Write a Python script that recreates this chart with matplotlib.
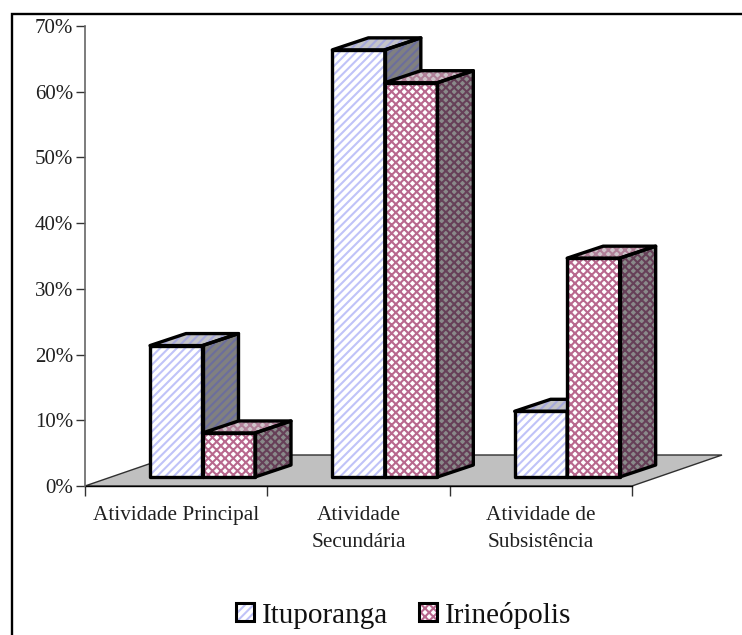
import matplotlib
matplotlib.use('Agg')
import matplotlib.pyplot as plt
from matplotlib.patches import Polygon, Rectangle
from matplotlib.lines import Line2D
import numpy as np

categories = ['Atividade Principal', 'Atividade\nSecundária', 'Atividade de\nSubsistência']
series_names = ['Ituporanga', 'Irineópolis']
ituporanga = [20.0, 65.0, 10.0]
irineopolis = [6.7, 60.0, 33.3]
y_ticks = [0, 10, 20, 30, 40, 50, 60, 70]

W, H = 742, 635
plt.rcParams['font.family'] = ['Liberation Serif', 'DejaVu Serif']
plt.rcParams['hatch.linewidth'] = 1.5

fig = plt.figure(figsize=(W / 100, H / 100), dpi=100)
ax = fig.add_axes([85 / W, (H - 486) / H, (632 - 85) / W, 460 / H])
ax.set_xlim(0, 3)
ax.set_ylim(0, 70)
ax.patch.set_visible(False)

# Sizes of the fake 3D, in data units
px = 3 / 547
py = 70 / 460
bar_w = 52.5 * px
gap = 65 * px
base = 9 * py
dx = 36 * px
dy = 12 * py
floor_dx = 90 * px
floor_dy = 31 * py

# Floor
ax.add_patch(Polygon([(0, 0), (3, 0), (3 + floor_dx, floor_dy), (floor_dx, floor_dy)],
                     facecolor='#c0c0c0', edgecolor='#303030', linewidth=1, clip_on=False, zorder=1))


def draw_bar(x, value, faces, hatch, z):
    y0 = base
    y1 = value + base
    out = dict(fill=False, edgecolor='black', linewidth=2.4, joinstyle='round', clip_on=False, zorder=z + 0.1)
    front = [(x, y0), (x + bar_w, y0), (x + bar_w, y1), (x, y1)]
    right = [(x + bar_w, y0), (x + bar_w + dx, y0 + dy), (x + bar_w + dx, y1 + dy), (x + bar_w, y1)]
    upper = [(x, y1), (x + bar_w, y1), (x + bar_w + dx, y1 + dy), (x + dx, y1 + dy)]
    for pts, (fc, hc) in zip([right, upper, front], faces):
        ax.add_patch(Polygon(pts, facecolor=fc, edgecolor=hc, hatch=hatch, linewidth=0, clip_on=False, zorder=z))
        ax.add_patch(Polygon(pts, **out))


# (face, hatch) colours for the side, top and front of the bars
blue_faces = [('#808080', '#6c6e9c'), ('#c4c4c8', '#a6a8dc'), ('white', '#c0c3f8')]
pink_faces = [('#8a8a8a', '#664058'), ('#cfc4ca', '#b08098'), ('white', '#b8688e')]

for i in range(len(categories)):
    x = i + gap
    draw_bar(x, ituporanga[i], blue_faces, '////', 3)
    draw_bar(x + bar_w, irineopolis[i], pink_faces, 'xxxx', 5)

# Axes
for s in ['top', 'right']:
    ax.spines[s].set_visible(False)
ax.spines['left'].set_color('#666666')
ax.spines['left'].set_linewidth(1.2)
ax.spines['bottom'].set_color('black')
ax.spines['bottom'].set_linewidth(1)
ax.spines['left'].set_zorder(10)
ax.spines['bottom'].set_zorder(2)

ax.set_yticks(y_ticks)
ax.set_yticklabels([f'{v}%' for v in y_ticks], fontsize=15, color='#202020')
ax.tick_params(axis='y', direction='out', length=6.5, width=1, color='#333333', pad=2)
ax.set_xticks([0, 1, 2, 3])
ax.set_xticklabels([])
ax.tick_params(axis='x', direction='out', length=7, width=1, color='#333333')
for i, c in enumerate(categories):
    ax.text(i + 0.5, -3.0, c, ha='center', va='top', fontsize=15.3, linespacing=1.6, color='#202020')

# Legend
for x0, (fc, hc), hatch in [(236, blue_faces[2], '////'), (419, pink_faces[2], 'xxxx')]:
    fig.add_artist(Rectangle((x0 / W, (H - 621) / H), 18 / W, 18 / H, transform=fig.transFigure,
                             facecolor=fc, edgecolor=hc, hatch=hatch, linewidth=0))
    fig.add_artist(Rectangle((x0 / W, (H - 621) / H), 18 / W, 18 / H, transform=fig.transFigure,
                             fill=False, edgecolor='black', linewidth=2.2))
fig.text(262 / W, (H - 623) / H, series_names[0], fontsize=21, color='#111111', va='baseline')
fig.text(445 / W, (H - 623) / H, series_names[1], fontsize=21, color='#111111', va='baseline')

# Outer frame: only the left and top edges fall inside the picture
fig.add_artist(Line2D([11.5 / W, 11.5 / W, 1], [0, (H - 14) / H, (H - 14) / H], transform=fig.transFigure,
                      color='black', linewidth=1.7, solid_joinstyle='miter'))

fig.savefig('out.png', dpi=100)
